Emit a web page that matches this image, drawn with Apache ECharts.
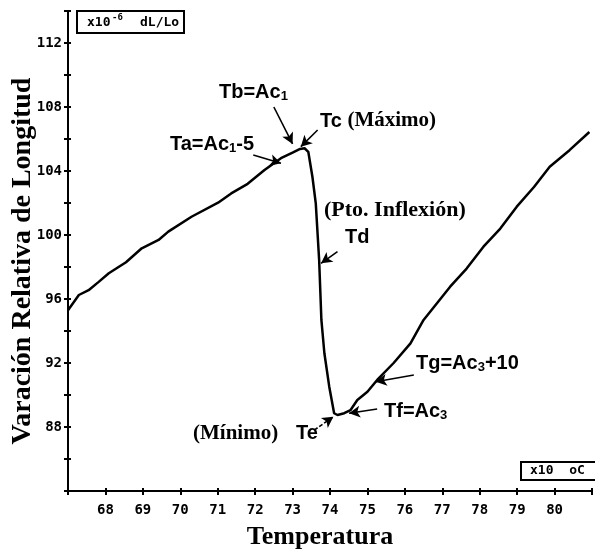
<!DOCTYPE html>
<html>
<head>
<meta charset="utf-8">
<script src="https://cdn.jsdelivr.net/npm/echarts@6/dist/echarts.min.js"></script>
<style>
html,body{margin:0;padding:0;background:#fff;}
#chart{width:595px;height:552px;}
</style>
</head>
<body>
<div id="chart"></div>
<script>
// Temperature (x10 oC) and relative length change (x10^-6 dL/Lo)
const temps = [67.00, 67.29, 67.55, 67.82, 68.09, 68.55, 68.97, 69.42, 69.68, 70.30, 71.01, 71.36, 71.80, 72.25, 72.69, 73.00, 73.20, 73.32, 73.42, 73.53, 73.62, 73.71, 73.77, 73.85, 73.98, 74.11, 74.20, 74.38, 74.55, 74.73, 75.00, 75.26, 75.70, 76.15, 76.50, 77.21, 77.65, 78.10, 78.55, 78.99, 79.45, 79.87, 80.40, 80.93];
const values = [95.30, 96.25, 96.55, 97.07, 97.61, 98.30, 99.17, 99.69, 100.21, 101.14, 102.02, 102.60, 103.20, 104.06, 104.80, 105.15, 105.38, 105.42, 105.20, 103.64, 101.98, 98.44, 94.69, 92.61, 90.52, 88.86, 88.75, 88.86, 89.06, 89.69, 90.20, 90.94, 92.00, 93.23, 94.69, 96.77, 97.90, 99.27, 100.40, 101.77, 103.00, 104.27, 105.30, 106.44];

// axis tick labels
const xTickLabels = [68, 69, 70, 71, 72, 73, 74, 75, 76, 77, 78, 79, 80];
const yTickLabels = [88, 92, 96, 100, 104, 108, 112];

// annotation arrows: [fromT, fromV] -> [toT, toV]
const arrowNames = ['Ta', 'Tb', 'Tc', 'Td', 'Te', 'Tf', 'Tg'];
const arrowFrom = [[71.95, 105.00], [72.50, 108.00], [73.67, 106.56], [74.20, 98.96], [73.58, 87.81], [75.26, 89.12], [76.24, 91.25]];
const arrowTo = [[72.69, 104.48], [73.00, 105.69], [73.22, 105.52], [73.76, 98.23], [74.09, 88.64], [74.51, 88.86], [75.22, 90.83]];

const chart = echarts.init(document.getElementById('chart'), null, {renderer: 'canvas'});

const mono = 'DejaVu Sans Mono';
const serif = '"Liberation Serif", "Times New Roman", serif';
const sans = '"Liberation Sans", Arial, sans-serif';

const lineData = temps.map((t, i) => [t, values[i]]);
const arrows = arrowNames.map((n, i) => [
  {coord: arrowFrom[i], lineStyle: n === 'Te' ? {type: [4, 2]} : {}},
  {coord: arrowTo[i]}
]);

const subRich = {
  a: {fontFamily: sans, fontWeight: 'bold', fontSize: 20, color: '#000', lineHeight: 22},
  s: {fontFamily: sans, fontWeight: 'bold', fontSize: 13, color: '#000', lineHeight: 22, verticalAlign: 'bottom', padding: [9, 0, 0, 0]},
  r: {fontFamily: serif, fontWeight: 'bold', fontSize: 21, color: '#000', lineHeight: 22},
  p: {fontFamily: serif, fontWeight: 'bold', fontSize: 22, color: '#000', lineHeight: 22}
};

function txt(x, y, text, align) {
  return {
    type: 'text', x: x, y: y, silent: true,
    style: {text: text, rich: subRich, align: align || 'left', verticalAlign: 'middle', fill: '#000'}
  };
}

const option = {
  animation: false,
  backgroundColor: '#fff',
  grid: {left: 68, top: 11, width: 527, height: 480, containLabel: false},
  xAxis: [{
    type: 'value', min: 67, max: 81, interval: 1,
    axisLine: {show: true, onZero: false, lineStyle: {color: '#000', width: 2}},
    axisTick: {show: true, inside: false, length: 4, lineStyle: {color: '#000', width: 2}},
    splitLine: {show: false},
    axisLabel: {
      margin: 12, color: '#000', fontFamily: mono, fontWeight: 'bold', fontSize: 14,
      formatter: v => xTickLabels.indexOf(v) >= 0 ? String(v) : ''
    }
  }, {
    type: 'value', min: 67, max: 81, interval: 1, position: 'bottom',
    axisLine: {show: false, onZero: false},
    axisTick: {show: true, inside: true, length: 3, lineStyle: {color: '#000', width: 2}},
    axisLabel: {show: false}, splitLine: {show: false}
  }],
  yAxis: [{
    type: 'value', min: 84, max: 114, interval: 2,
    axisLine: {show: true, onZero: false, lineStyle: {color: '#000', width: 2}},
    axisTick: {show: true, inside: false, length: 4, lineStyle: {color: '#000', width: 2}},
    splitLine: {show: false},
    axisLabel: {
      margin: 6, color: '#000', fontFamily: mono, fontWeight: 'bold', fontSize: 14,
      formatter: v => yTickLabels.indexOf(v) >= 0 ? String(v) : ''
    }
  }, {
    type: 'value', min: 84, max: 114, interval: 2, position: 'left',
    axisLine: {show: false, onZero: false},
    axisTick: {show: true, inside: true, length: 3, lineStyle: {color: '#000', width: 2}},
    axisLabel: {show: false}, splitLine: {show: false}
  }],
  series: [{
    type: 'line',
    data: lineData,
    xAxisIndex: 0, yAxisIndex: 0,
    showSymbol: false, symbol: 'none',
    smooth: false,
    lineStyle: {color: '#000', width: 2.5},
    z: 3,
    markLine: {
      silent: true,
      symbol: ['none', 'arrow'],
      symbolSize: [9, 11],
      label: {show: false},
      lineStyle: {color: '#000', width: 1.6, type: 'solid'},
      data: arrows
    }
  }],
  graphic: [
    // units box (y)
    {type: 'rect', shape: {x: 77, y: 11, width: 107, height: 22}, style: {fill: '#fff', stroke: '#000', lineWidth: 2}},
    {type: 'text', x: 87, y: 23, style: {text: 'x10', font: 'bold 13px ' + mono, fill: '#000', verticalAlign: 'middle'}},
    {type: 'text', x: 112, y: 18, style: {text: '-6', font: 'bold 9px ' + mono, fill: '#000', verticalAlign: 'middle'}},
    {type: 'text', x: 140, y: 23, style: {text: 'dL/Lo', font: 'bold 13px ' + mono, fill: '#000', verticalAlign: 'middle'}},
    // units box (x)
    {type: 'rect', shape: {x: 521, y: 462, width: 84, height: 18}, style: {fill: '#fff', stroke: '#000', lineWidth: 2}},
    {type: 'text', x: 530, y: 471, style: {text: 'x10  oC', font: 'bold 13px ' + mono, fill: '#000', verticalAlign: 'middle'}},
    // axis titles
    {type: 'text', x: 320, y: 537, style: {text: 'Temperatura', font: 'bold 26px ' + serif, fill: '#000', align: 'center', verticalAlign: 'middle'}},
    {type: 'text', x: 23, y: 261, rotation: Math.PI / 2, style: {text: 'Varación Relativa de Longitud', font: 'bold 28px ' + serif, fill: '#000', align: 'center', verticalAlign: 'middle'}},
    // annotations
    txt(219, 92, '{a|Tb=Ac}{s|1}'),
    txt(320, 121, '{a|Tc }{r|(Máximo)}'),
    txt(170, 144, '{a|Ta=Ac}{s|1}{a|-5}'),
    txt(324, 210, '{p|(Pto. Inflexión)}'),
    txt(345, 237, '{a|Td}'),
    txt(193, 434, '{r|(Mínimo)}'),
    txt(296, 433, '{a|Te}'),
    txt(384, 411, '{a|Tf=Ac}{s|3}'),
    txt(416, 363, '{a|Tg=Ac}{s|3}{a|+10}')
  ]
};

chart.setOption(option);
</script>
</body>
</html>
